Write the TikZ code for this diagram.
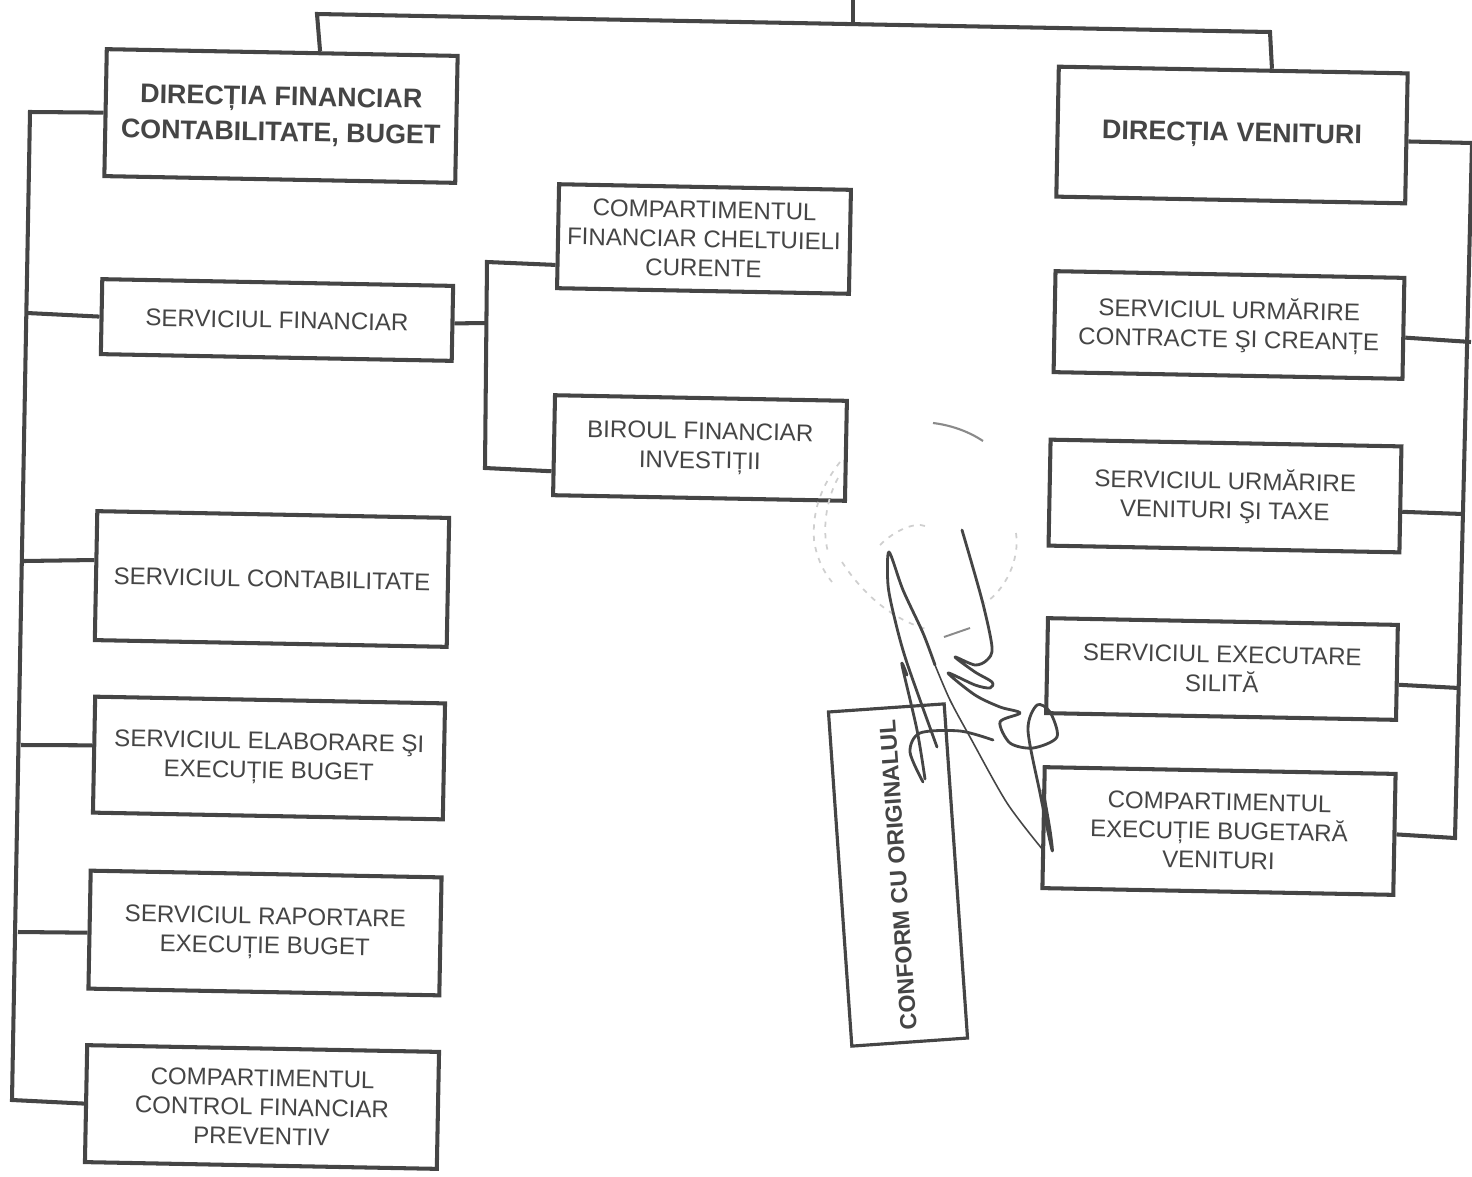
\documentclass[tikz,border=0pt]{standalone}
\usepackage{fontspec}
\setmainfont{Liberation Sans}
\definecolor{inkgray}{HTML}{454545}
\definecolor{sealgray}{HTML}{CFCFCF}
\tikzset{
  boxnode/.style={draw=inkgray,line width=2.3pt,text=inkgray,align=center,rotate=-1.1,inner sep=0pt,
    font=\fontsize{13.7}{16.6}\selectfont},
  headnode/.style={boxnode,font=\fontsize{15.3}{20.2}\selectfont\bfseries},
  stampnode/.style={draw=inkgray,line width=1.8pt,text=inkgray,rotate=94,inner sep=0pt,
    font=\fontsize{13.2}{16}\selectfont\bfseries},
  linkline/.style={draw=inkgray,line width=2.3pt,line join=miter},
  sealline/.style={draw=sealgray,line width=1pt,dash pattern=on 3pt off 3.5pt},
  signline/.style={draw=inkgray,line width=1.6pt,line cap=round,line join=round}
}
\begin{document}
\begin{tikzpicture}[x=0.02cm,y=-0.02cm]
\useasboundingbox (0,0) rectangle (1472,1177);
\node[headnode,minimum width=7.02cm,minimum height=2.54cm] (dirfin) at (281,116) {DIRECȚIA FINANCIAR\\CONTABILITATE, BUGET};
\node[boxnode,minimum width=7.02cm,minimum height=1.5cm] (servfin) at (277,320) {SERVICIUL FINANCIAR};
\node[boxnode,minimum width=7.04cm,minimum height=2.58cm] (contab) at (272,579) {SERVICIUL CONTABILITATE};
\node[boxnode,minimum width=7cm,minimum height=2.32cm] (elab) at (269,758) {SERVICIUL ELABORARE ŞI\\EXECUȚIE BUGET};
\node[boxnode,minimum width=7.02cm,minimum height=2.36cm] (rap) at (265,933) {SERVICIUL RAPORTARE\\EXECUȚIE BUGET};
\node[boxnode,minimum width=7.04cm,minimum height=2.34cm] (control) at (262,1107) {COMPARTIMENTUL\\CONTROL FINANCIAR\\PREVENTIV};
\node[boxnode,minimum width=5.84cm,minimum height=2.08cm] (compfin) at (704,239) {COMPARTIMENTUL\\FINANCIAR CHELTUIELI\\CURENTE};
\node[boxnode,minimum width=5.84cm,minimum height=2cm] (birou) at (700,448) {BIROUL FINANCIAR\\INVESTIȚII};
\node[headnode,minimum width=6.98cm,minimum height=2.6cm] (dirven) at (1232,135) {DIRECȚIA VENITURI};
\node[boxnode,minimum width=6.98cm,minimum height=2.02cm] (urmcontr) at (1229,325) {SERVICIUL URMĂRIRE\\CONTRACTE ŞI CREANȚE};
\node[boxnode,minimum width=7.02cm,minimum height=2.12cm] (urmven) at (1225,496) {SERVICIUL URMĂRIRE\\VENITURI ŞI TAXE};
\node[boxnode,minimum width=7cm,minimum height=1.9cm] (exec) at (1222,669) {SERVICIUL EXECUTARE\\SILITĂ};
\node[boxnode,minimum width=7.02cm,minimum height=2.42cm] (compexec) at (1219,831) {COMPARTIMENTUL\\EXECUȚIE BUGETARĂ\\VENITURI};
\node[stampnode,minimum width=6.7cm,minimum height=2.32cm] (stamp) at (898,875) {CONFORM CU ORIGINALUL};

\coordinate (topin) at (853,0);
\coordinate (topjoin) at (853,23);
\coordinate (busleft) at (317,14);
\coordinate (busright) at (1270,32);
\draw[linkline] (dirfin.60) -- (busleft) -- (busright) -- (dirven.60);
\draw[linkline] (topin) -- (topjoin);

% left trunk
\coordinate (ltop) at (30,112);
\coordinate (lfin) at (27,313);
\coordinate (lcon) at (24,561);
\coordinate (lela) at (21,745);
\coordinate (lrap) at (18,932);
\coordinate (lend) at (12,1100);
\draw[linkline] (dirfin.west) -- (ltop) -- (lend) -- (control.west);
\draw[linkline] (lfin) -- (servfin.west);
\draw[linkline] (lcon) -- (contab.175.5);
\draw[linkline] (lela) -- (elab.177);
\draw[linkline] (lrap) -- (rap.181);

% financial branch
\coordinate (midtop) at (487,262);
\coordinate (midjoin) at (486,323);
\coordinate (midend) at (485,468);
\draw[linkline] (compfin.191) -- (midtop) -- (midend) -- (birou.190);
\draw[linkline] (servfin.east) -- (midjoin);

% right trunk
\coordinate (rtop) at (1472,143);
\coordinate (rcon) at (1471,342);
\coordinate (rven) at (1463,514);
\coordinate (rexe) at (1459,688);
\coordinate (rend) at (1455,838);
\draw[linkline] (dirven.-1) -- (rtop) -- (rend) -- (compexec.-0.5);
\draw[linkline] (urmcontr.-3.3) -- (rcon);
\draw[linkline] (urmven.-4.2) -- (rven);
\draw[linkline] (exec.-4.6) -- (rexe);

% seal
\draw[draw=sealgray!50!inkgray,line width=1.2pt] (933,423) .. controls (950,425) and (968,431) .. (983,441);
\draw[sealline] (840,462) .. controls (822,485) and (812,510) .. (814,540) .. controls (816,555) and (822,570) .. (832,582);
\draw[sealline] (838,478) .. controls (826,500) and (822,530) .. (828,552);
\draw[sealline] (842,562) .. controls (860,590) and (890,620) .. (930,630);
\draw[sealline] (880,545) .. controls (895,530) and (915,522) .. (925,526);
\draw[sealline] (1016,533) .. controls (1020,560) and (1005,590) .. (985,603);
\draw[draw=sealgray!50!inkgray,line width=1.1pt] (944,637) -- (970,628);

% signature
\draw[signline] plot[smooth] coordinates {(937,747) (907,663) (895,620) (888,585) (889,552) (903,590) (923,633) (935,665)};
\draw[signline,line width=0.9pt] plot[smooth] coordinates {(935,665) (950,700) (970,737) (1007,803) (1043,850)};
\draw[signline] plot[smooth] coordinates {(907,675) (902,665) (917,730) (925,779)};
\draw[signline] plot[smooth] coordinates {(923,782) (910,752) (920,733) (960,731) (993,740)};
\draw[signline] plot[smooth] coordinates {(962,530) (982,600) (992,647) (987,660) (975,665) (955,657) (975,672) (992,682) (990,688) (975,685) (948,673) (975,695) (1000,707) (1020,713) (1000,722) (1010,743) (1033,748) (1057,737) (1050,712) (1037,705) (1028,730) (1040,793) (1052,850) (1050,830) (1043,790)};
\end{tikzpicture}
\end{document}
